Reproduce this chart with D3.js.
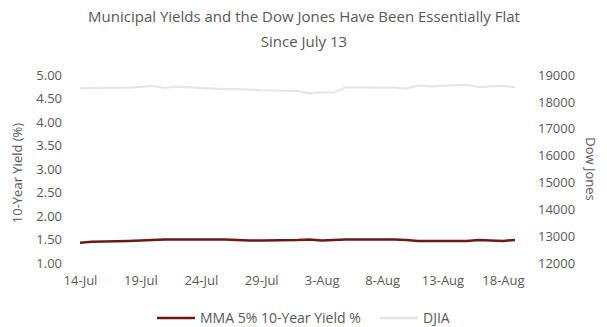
<!DOCTYPE html>
<html>
<head>
<meta charset="utf-8">
<script src="https://cdn.jsdelivr.net/npm/d3@7"></script>
<style>
  body { margin: 0; background: #fff; }
  text { font-family: "Open Sans", sans-serif; fill: #595959; }
  .domain { display: none; }
</style>
</head>
<body>
<div id="chart"></div>
<script>
// business days, 14 Jul - 19 Aug 2016
const dates = ["2016-07-14","2016-07-15","2016-07-18","2016-07-19","2016-07-20","2016-07-21","2016-07-22",
  "2016-07-25","2016-07-26","2016-07-27","2016-07-28","2016-07-29","2016-08-01","2016-08-02","2016-08-03",
  "2016-08-04","2016-08-05","2016-08-08","2016-08-09","2016-08-10","2016-08-11","2016-08-12","2016-08-15",
  "2016-08-16","2016-08-17","2016-08-18","2016-08-19"];
const mmaYield = [1.43,1.45,1.47,1.48,1.49,1.50,1.50,1.50,1.50,1.49,1.48,1.48,1.49,1.50,1.48,
  1.49,1.50,1.50,1.50,1.49,1.47,1.47,1.47,1.49,1.48,1.47,1.49];
const djia = [18506,18516,18533,18559,18595,18517,18570,18493,18473,18472,18456,18432,18404,18313,18355,
  18352,18543,18529,18533,18495,18613,18576,18636,18552,18573,18597,18552];
const xTicks = ["2016-07-14","2016-07-19","2016-07-24","2016-07-29","2016-08-03","2016-08-08","2016-08-13","2016-08-18"];
const yLeftTicks = [1.0,1.5,2.0,2.5,3.0,3.5,4.0,4.5,5.0];
const yRightTicks = [12000,13000,14000,15000,16000,17000,18000,19000];

const W = 607, H = 327;
const margin = { top: 75, right: 92, bottom: 64, left: 80 };
const width = W - margin.left - margin.right;
const height = H - margin.top - margin.bottom;
const parse = d3.utcParse("%Y-%m-%d");

const data = dates.map((d, i) => ({ date: parse(d), mma: mmaYield[i], dj: djia[i] }));

const svg = d3.select("#chart").append("svg")
  .attr("width", W).attr("height", H);
const g = svg.append("g").attr("transform", `translate(${margin.left},${margin.top})`);

const x = d3.scaleUtc()
  .domain([parse("2016-07-14"), parse("2016-08-19")])
  .range([0, width]);
const yL = d3.scaleLinear().domain([1, 5]).range([height, 0]);
const yR = d3.scaleLinear().domain([12000, 19000]).range([height, 0]);

const fmtDate = d3.utcFormat("%-d-%b");

g.append("g")
  .attr("transform", `translate(0,${height})`)
  .call(d3.axisBottom(x).tickValues(xTicks.map(parse)).tickFormat(fmtDate).tickSize(0).tickPadding(13))
  .call(a => a.selectAll("text").style("font-size", "13px").attr("fill", "#595959"));

g.append("g")
  .call(d3.axisLeft(yL).tickValues(yLeftTicks).tickFormat(d3.format(".2f")).tickSize(0).tickPadding(18))
  .call(a => a.selectAll("text").style("font-size", "13px").attr("fill", "#595959"));

g.append("g")
  .attr("transform", `translate(${width},0)`)
  .call(d3.axisRight(yR).tickValues(yRightTicks).tickFormat(d3.format("d")).tickSize(0).tickPadding(23))
  .call(a => a.selectAll("text").style("font-size", "13px").attr("fill", "#595959"));

svg.selectAll(".domain").remove();

g.append("path")
  .datum(data)
  .attr("fill", "none")
  .attr("stroke", "#e6e6e6")
  .attr("stroke-width", 2.2)
  .attr("d", d3.line().x(d => x(d.date)).y(d => yR(d.dj)));

g.append("path")
  .datum(data)
  .attr("fill", "none")
  .attr("stroke", "#6b1a16")
  .attr("stroke-width", 2.5)
  .attr("d", d3.line().x(d => x(d.date)).y(d => yL(d.mma)));

// titles
svg.append("text").attr("x", 304).attr("y", 22).attr("text-anchor", "middle")
  .style("font-size", "15px").text("Municipal Yields and the Dow Jones Have Been Essentially Flat");
svg.append("text").attr("x", 304).attr("y", 47).attr("text-anchor", "middle")
  .style("font-size", "15px").text("Since July 13");

svg.append("text")
  .attr("transform", "translate(22,173) rotate(-90)")
  .attr("text-anchor", "middle").style("font-size", "13px")
  .text("10-Year Yield (%)");

svg.append("text")
  .attr("transform", "translate(586,169) rotate(90)")
  .attr("text-anchor", "middle").style("font-size", "13px")
  .text("Dow Jones");

// legend
const legend = [
  { label: "MMA 5% 10-Year Yield %", color: "#6b1a16", x: 157 },
  { label: "DJIA", color: "#e6e6e6", x: 380 }
];
const lg = svg.append("g").selectAll("g").data(legend).join("g")
  .attr("transform", d => `translate(${d.x},318)`);
lg.append("line").attr("x1", 0).attr("x2", 38)
  .attr("stroke", d => d.color).attr("stroke-width", 2.5);
lg.append("text").attr("x", 43).attr("dy", "0.35em").style("font-size", "14px").text(d => d.label);
</script>
</body>
</html>
